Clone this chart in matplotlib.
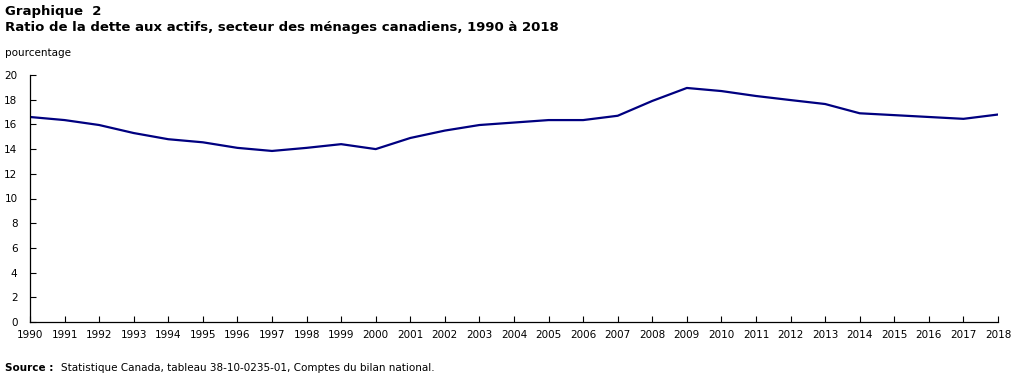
import matplotlib
matplotlib.use("Agg")
import matplotlib.pyplot as plt

# Ratio de la dette aux actifs (pourcentage)
annees = list(range(1990, 2019))
ratio = [16.6, 16.35, 15.95, 15.3, 14.8, 14.55, 14.1, 13.85, 14.1, 14.4,
         14.0, 14.9, 15.5, 15.95, 16.15, 16.35, 16.35, 16.7, 17.9, 18.95,
         18.7, 18.3, 17.97, 17.65, 16.9, 16.75, 16.6, 16.45, 16.8]
yticks = list(range(0, 21, 2))

plt.rcParams["font.family"] = ["DejaVu Sans"]

fig = plt.figure(figsize=(10.21, 3.78), dpi=100)
ax = fig.add_axes([30 / 1021, 1 - 322 / 378, 968 / 1021, 247 / 378])

ax.plot(annees, ratio, color="#000080", linewidth=1.6, solid_joinstyle="round")

ax.set_xlim(1990, 2018)
ax.set_ylim(0, 20)
ax.set_xticks(annees)
ax.set_xticklabels([str(a) for a in annees], fontsize=7.5)
ax.set_yticks(yticks)
ax.set_yticklabels([str(v) for v in yticks], fontsize=7.5)
ax.tick_params(axis="both", direction="in", length=4, width=0.8, color="black", pad=6)
ax.tick_params(axis="y", pad=9)
ax.spines["top"].set_visible(False)
ax.spines["right"].set_visible(False)
for s in ("left", "bottom"):
    ax.spines[s].set_linewidth(0.9)

# Titres et notes
fig.text(5 / 1021, 1 - 11 / 378, "Graphique  2", fontsize=9.5, fontweight="bold", va="center")
fig.text(5 / 1021, 1 - 28 / 378, "Ratio de la dette aux actifs, secteur des ménages canadiens, 1990 à 2018",
         fontsize=9.5, fontweight="bold", va="center")
fig.text(5 / 1021, 1 - 53 / 378, "pourcentage", fontsize=7.5, va="center")
fig.text(5 / 1021, 1 - 368 / 378, "Source :", fontsize=7.5, fontweight="bold", va="center")
fig.text(61 / 1021, 1 - 368 / 378, "Statistique Canada, tableau 38-10-0235-01, Comptes du bilan national.",
         fontsize=7.5, va="center")

fig.savefig("out.png", dpi=100)
